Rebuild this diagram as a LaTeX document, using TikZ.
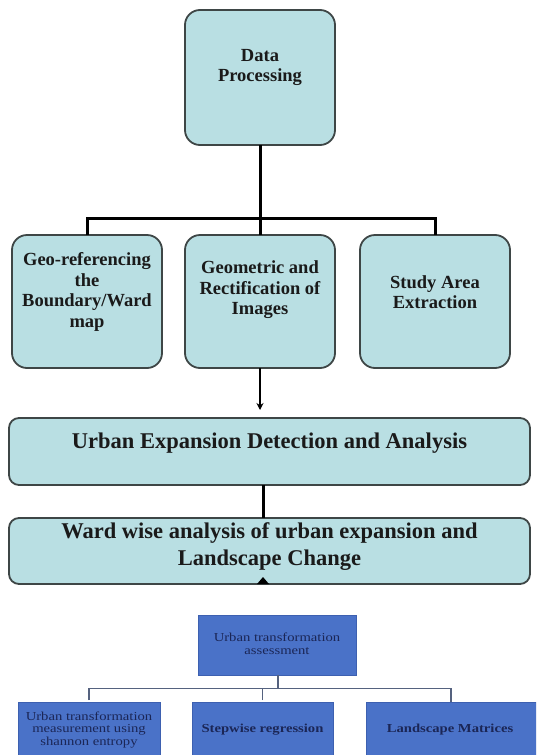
\documentclass[tikz,border=0pt]{standalone}
\usepackage{fontspec}
\setmainfont{Liberation Serif}
\newfontfamily\bluefont[FakeStretch=1.2]{Liberation Serif}
\usetikzlibrary{arrows.meta}
\definecolor{boxfill}{HTML}{B9DFE3}
\definecolor{boxline}{HTML}{3E4646}
\definecolor{bluefill}{HTML}{4A72C8}
\definecolor{blueline}{HTML}{3D60B0}
\definecolor{bluetext}{HTML}{1B2656}
\definecolor{connblue}{HTML}{55627F}
\definecolor{txt}{HTML}{1A1A1A}
\tikzset{
  tealbox/.style={draw=boxline, line width=1.8pt, fill=boxfill, rounded corners=15pt, inner sep=0pt, outer sep=0pt},
  widebox/.style={tealbox, rounded corners=10pt},
  bluebox/.style={draw=blueline, line width=0.8pt, fill=bluefill, inner sep=0pt, outer sep=0pt},
  toptext/.style={font=\bfseries\fontsize{18.5}{20.5}\selectfont, align=center, text=txt, inner sep=0pt},
  bigtext/.style={font=\bfseries\fontsize{22.5}{27}\selectfont, align=center, text=txt, inner sep=0pt},
  bluetxt/.style={font=\bluefont\fontsize{12.2}{12.6}\selectfont, align=center, text=bluetext, inner sep=0pt},
  bluetxtb/.style={font=\bluefont\bfseries\fontsize{12.2}{12.6}\selectfont, align=center, text=bluetext, inner sep=0pt},
  thickconn/.style={line width=3pt, black},
  thinarrow/.style={line width=1.2pt, black, -{Stealth[length=7pt,width=7pt]}},
  blueconn/.style={line width=1.5pt, connblue},
}
\begin{document}
\begin{tikzpicture}[x=1pt,y=-1pt]
\useasboundingbox (0,0) rectangle (536,755);
\clip (0,0) rectangle (536,755);
\fill[white] (0,0) rectangle (536,755);

% top flowchart
\node[tealbox, minimum width=150pt, minimum height=135pt] (dp) at (260,77.5) {};
\node[tealbox, minimum width=150pt, minimum height=133pt] (geo) at (87,301.5) {};
\node[tealbox, minimum width=150pt, minimum height=133pt] (geom) at (260,301.5) {};
\node[tealbox, minimum width=150pt, minimum height=133pt] (study) at (435,301.5) {};
\node[widebox, minimum width=521pt, minimum height=67pt] (urban) at (269.5,451.5) {};
\node[widebox, minimum width=521pt, minimum height=66pt] (ward) at (269.5,551) {};

\node[toptext] (dpt) at (260,67.5) {Data\\Processing};
\node[toptext] (geot) at (87,292) {Geo-referencing\\the\\Boundary/Ward\\map};
\node[toptext] (geomt) at (260,290) {Geometric and\\Rectification of\\Images};
\node[toptext] (studyt) at (435,292) {Study Area\\Extraction};
\node[bigtext] (urbant) at (269.5,443) {Urban Expansion Detection and Analysis};
\node[bigtext] (wardt) at (269.5,546.5) {Ward wise analysis of urban expansion and\\Landscape Change};

\coordinate (barc) at (260,218);
\draw[thickconn] (dp.south) -- (barc);
\draw[thickconn] (geo.north) -- (geo.north |- barc) -- (study.north |- barc) -- (study.north);
\draw[thickconn] (barc) -- (geom.north);
\draw[thinarrow, shorten >=8pt] (geom.south) -- (geom.south |- urban.north);
\draw[thickconn] ([xshift=-6.5pt]urban.south) -- ([xshift=-6.5pt]ward.north);
\fill[black] ([xshift=-12.5pt]ward.south) -- ++(6,-7) -- ++(6,7) -- cycle;

% bottom (blue) chart
\node[bluebox, minimum width=158pt, minimum height=60pt] (bt) at (277,645) {};
\node[bluebox, minimum width=142pt, minimum height=66pt] (b1) at (89,735) {};
\node[bluebox, minimum width=141pt, minimum height=66pt] (b2) at (262.5,735) {};
\node[bluebox, minimum width=170pt, minimum height=66pt] (b3) at (451,735) {};

\node[bluetxt] (btt) at (277,644) {Urban transformation\\assessment};
\node[bluetxt] (b1t) at (89,730) {Urban transformation\\measurement using\\shannon entropy};
\node[bluetxtb] (b2t) at (262.5,730) {Stepwise regression};
\node[bluetxtb] (b3t) at (450,730) {Landscape Matrices};

\coordinate (bj) at (278,688.5);
\draw[blueconn] ([xshift=1pt]bt.south) -- (bj);
\draw[blueconn, shorten <=2pt] (b1.north) -- (b1.north |- bj) -- (b3.north |- bj) -- (b3.north);
\draw[blueconn, shorten <=2pt] (b2.north) -- (b2.north |- bj);
\end{tikzpicture}
\end{document}
